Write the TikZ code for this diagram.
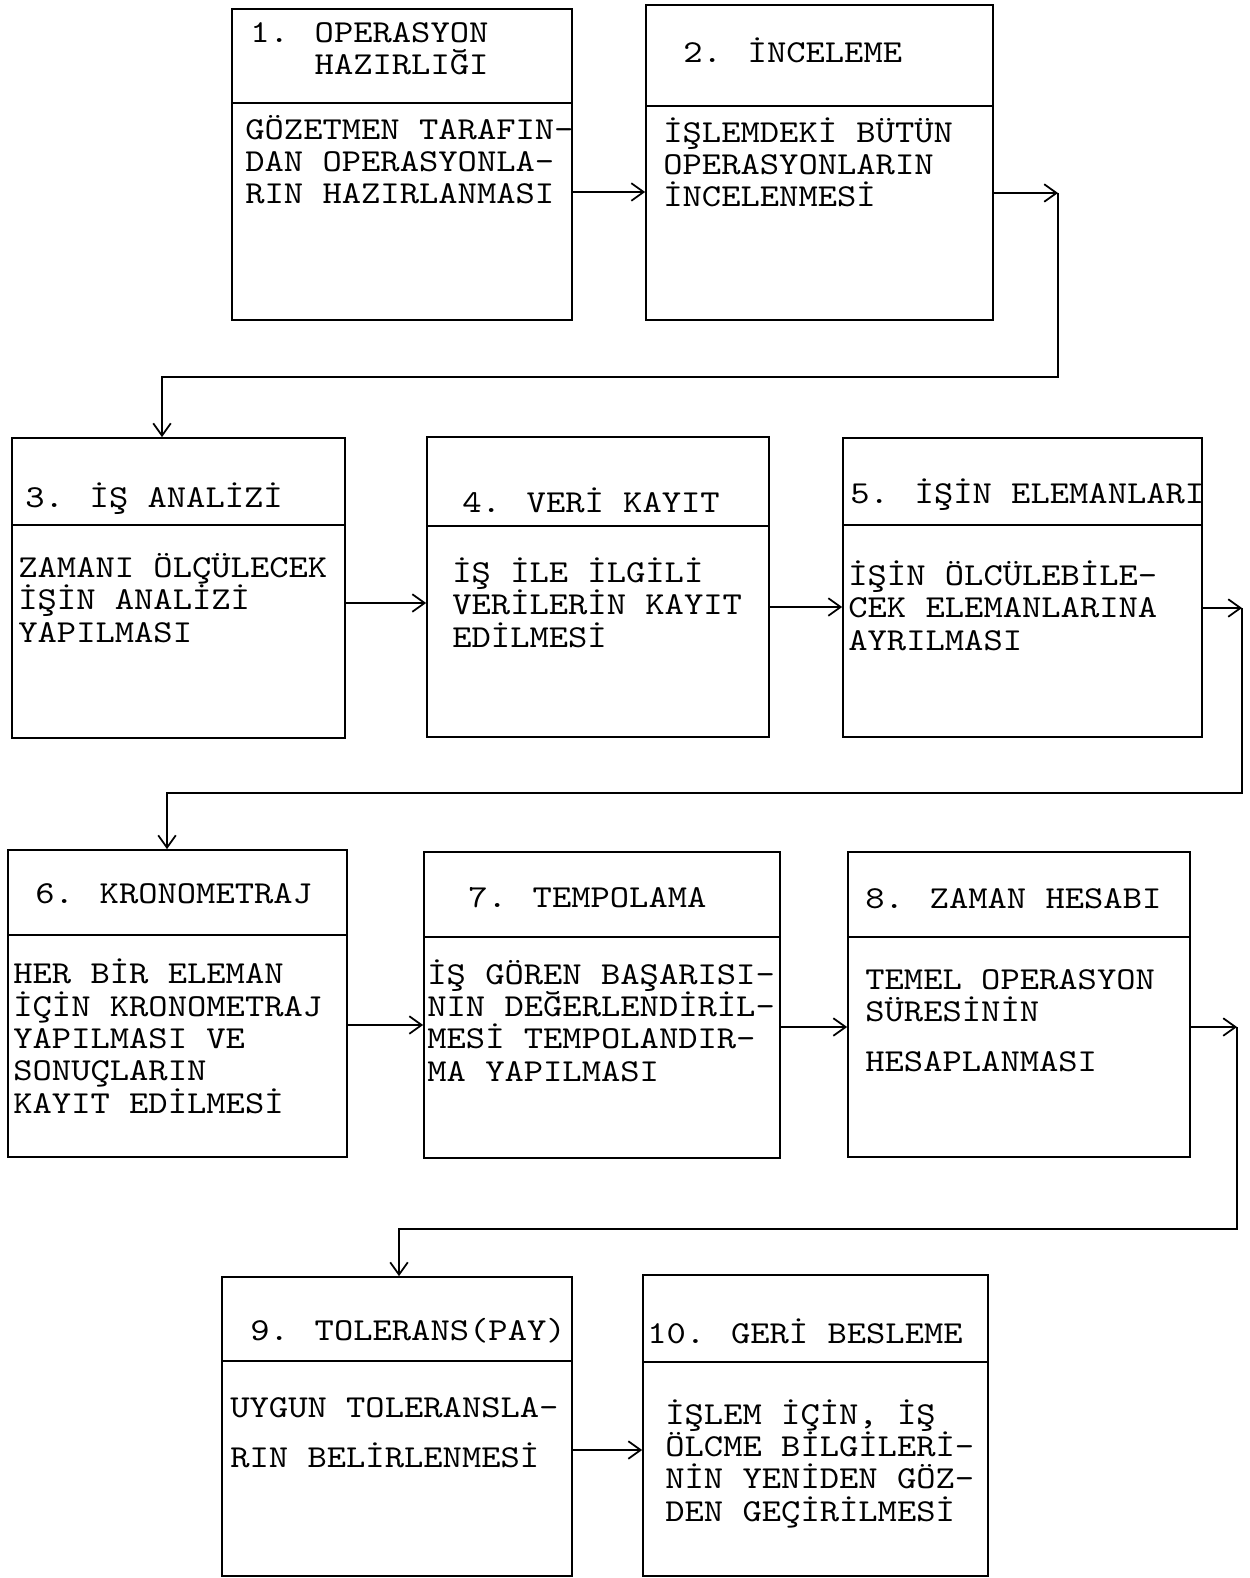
\documentclass[tikz,border=0pt]{standalone}
\usepackage{fontspec}
\newfontfamily\typewr[FakeStretch=1.15]{lmmono10-regular.otf}
\usepackage{tikz}
\usetikzlibrary{fit,arrows.meta}

\begin{document}
\begin{tikzpicture}[x=0.02cm,y=-0.02cm,
    box/.style={draw,line width=1pt,inner sep=0pt},
    head/.style={anchor=base west,inner sep=0pt,align=left,
      font=\typewr\fontsize{18.2}{18.4}\selectfont},
    rule/.style={line width=1pt},
    arr/.style={line width=1pt,-{Straight Barb[length=7pt,width=10pt]}}]
  \useasboundingbox (0,0) rectangle (1250,1578);
  % row 1 (text nodes sit on the baseline of their last line)
  \node[box,fit={(232,9) (572,320)}] (b1) {};
  \draw[rule] (b1.west |- 0,103) -- (b1.east |- 0,103);
  \node[head] (h1) at (250,75) {1. OPERASYON\\\hphantom{1. }HAZIRLIĞI};
  \node[head] (t1) at (245,204) {GÖZETMEN TARAFIN-\\DAN OPERASYONLA-\\RIN HAZIRLANMASI};
  \node[box,fit={(646,5) (993,320)}] (b2) {};
  \draw[rule] (b2.west |- 0,106) -- (b2.east |- 0,106);
  \node[head] (h2) at (683,63) {2. İNCELEME};
  \node[head] (t2) at (663,207) {İŞLEMDEKİ BÜTÜN\\OPERASYONLARIN\\İNCELENMESİ};
  % row 2
  \node[box,fit={(12,438) (345,738)}] (b3) {};
  \draw[rule] (b3.west |- 0,525) -- (b3.east |- 0,525);
  \node[head] (h3) at (25,507) {3. İŞ ANALİZİ};
  \node[head] (t3) at (18,642) {ZAMANI ÖLÇÜLECEK\\İŞİN ANALİZİ\\YAPILMASI};
  \node[box,fit={(427,437) (769,737)}] (b4) {};
  \draw[rule] (b4.west |- 0,526) -- (b4.east |- 0,526);
  \node[head] (h4) at (462,512) {4. VERİ KAYIT};
  \node[head] (t4) at (452,647) {İŞ İLE İLGİLİ\\VERİLERİN KAYIT\\EDİLMESİ};
  \node[box,fit={(843,438) (1202,737)}] (b5) {};
  \draw[rule] (b5.west |- 0,525) -- (b5.east |- 0,525);
  \node[head] (h5) at (850,503) {5. İŞİN ELEMANLARI};
  \node[head] (t5) at (848,650) {İŞİN ÖLCÜLEBİLE-\\CEK ELEMANLARINA\\AYRILMASI};
  % row 3
  \node[box,fit={(8,850) (347,1157)}] (b6) {};
  \draw[rule] (b6.west |- 0,935) -- (b6.east |- 0,935);
  \node[head] (h6) at (35,903) {6. KRONOMETRAJ};
  \node[head] (t6) at (13,1113) {HER BİR ELEMAN\\İÇİN KRONOMETRAJ\\YAPILMASI VE\\SONUÇLARIN\\KAYIT EDİLMESİ};
  \node[box,fit={(424,852) (780,1158)}] (b7) {};
  \draw[rule] (b7.west |- 0,937) -- (b7.east |- 0,937);
  \node[head] (h7) at (468,907) {7. TEMPOLAMA};
  \node[head] (t7) at (427,1081) {İŞ GÖREN BAŞARISI-\\NIN DEĞERLENDİRİL-\\MESİ TEMPOLANDIR-\\MA YAPILMASI};
  \node[box,fit={(848,852) (1190,1157)}] (b8) {};
  \draw[rule] (b8.west |- 0,937) -- (b8.east |- 0,937);
  \node[head] (h8) at (865,908) {8. ZAMAN HESABI};
  \node[head] (t8) at (865,1071) {TEMEL OPERASYON\\SÜRESİNİN\\[9.5pt]HESAPLANMASI};
  % row 4
  \node[box,fit={(222,1277) (572,1576)}] (b9) {};
  \draw[rule] (b9.west |- 0,1361) -- (b9.east |- 0,1361);
  \node[head] (h9) at (250,1340) {9. TOLERANS(PAY)};
  \node[head] (t9) at (230,1467) {UYGUN TOLERANSLA-\\[9.5pt]RIN BELİRLENMESİ};
  \node[box,fit={(643,1275) (988,1576)}] (b10) {};
  \draw[rule] (b10.west |- 0,1362) -- (b10.east |- 0,1362);
  \node[head] (h10) at (647,1343) {10. GERİ BESLEME};
  \node[head] (t10) at (665,1521) {İŞLEM İÇİN, İŞ\\ÖLCME BİLGİLERİ-\\NİN YENİDEN GÖZ-\\DEN GEÇİRİLMESİ};
  % connectors
  \coordinate (k2) at (1058,193);
  \coordinate (k3) at (162,377);
  \coordinate (k5) at (1242,608);
  \coordinate (k6) at (167,793);
  \coordinate (k8) at (1237,1027);
  \coordinate (k9) at (399,1229);
  \draw[arr] (b1.east |- 0,192) -- (b2.west |- 0,192);
  \draw[arr] (b2.east |- k2) -- (k2);
  \draw[arr] (k2) |- (k3) -- (k3 |- b3.north);
  \draw[arr] (b3.east |- 0,603) -- (b4.west |- 0,603);
  \draw[arr] (b4.east |- 0,607) -- (b5.west |- 0,607);
  \draw[arr] (b5.east |- k5) -- (k5);
  \draw[arr] (k5) |- (k6) -- (k6 |- b6.north);
  \draw[arr] (b6.east |- 0,1025) -- (b7.west |- 0,1025);
  \draw[arr] (b7.east |- 0,1027) -- (b8.west |- 0,1027);
  \draw[arr] (b8.east |- k8) -- (k8);
  \draw[arr] (k8) |- (k9) -- (k9 |- b9.north);
  \draw[arr] (b9.east |- 0,1450) -- (b10.west |- 0,1450);
\end{tikzpicture}
\end{document}
